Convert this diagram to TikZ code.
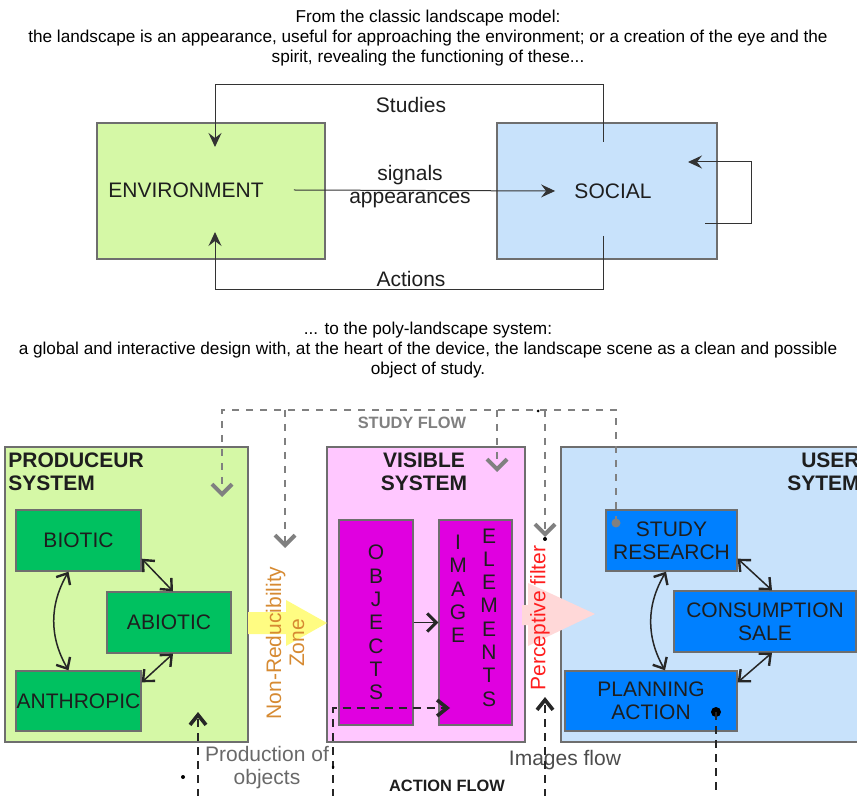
\documentclass[tikz,border=0pt]{standalone}
\usepackage{fontspec}
\setmainfont{Liberation Sans}
\usetikzlibrary{arrows.meta,positioning,calc}

\definecolor{lgreen}{RGB}{213,248,166}
\definecolor{lblue}{RGB}{200,226,251}
\definecolor{lpink}{RGB}{255,199,255}
\definecolor{dgreen}{RGB}{0,193,96}
\definecolor{dblue}{RGB}{0,128,255}
\definecolor{dmagenta}{RGB}{224,0,224}
\definecolor{boxline}{RGB}{110,110,110}
\definecolor{flowgray}{RGB}{128,128,128}
\definecolor{zoneorange}{RGB}{214,138,50}
\definecolor{filterred}{RGB}{255,30,30}
\definecolor{yarrow}{RGB}{255,252,130}
\definecolor{parrow}{RGB}{255,216,216}
\definecolor{txtdark}{RGB}{30,30,30}
\definecolor{txtgray}{RGB}{105,105,105}

\newcommand{\lblfont}{\fontsize{10.5}{11.5}\selectfont}
\newcommand{\capfont}{\fontsize{8.6}{10.2}\selectfont}
\newcommand{\flowfont}{\fontsize{8.2}{9}\selectfont\bfseries}
\newcommand{\letterfont}{\fontsize{10.5}{11.65}\selectfont}

\begin{document}
\begin{tikzpicture}[x=0.5pt, y=-0.5pt,
  capt/.style={font=\capfont, align=center, inner sep=0pt, text=black},
  lbl/.style={font=\lblfont, align=center, inner sep=0pt, text=txtdark},
  box/.style={draw=boxline, line width=0.7pt, inner sep=0pt},
  inbox/.style={box, font=\lblfont, align=center, text=txtdark},
  ttl/.style={font=\lblfont\bfseries, inner sep=0pt, text=txtdark},
  letters/.style={font=\letterfont, align=center, inner sep=0pt, text=txtdark},
  tarr/.style={draw=black!80, line width=0.5pt, -{Stealth[length=7pt,width=6.5pt,inset=2.5pt]}},
  dbl/.style={draw=black!85, line width=0.75pt, {Straight Barb[length=4.5pt,width=8pt,line width=1.2pt]}-{Straight Barb[length=4.5pt,width=8pt,line width=1.2pt]}},
  sflow/.style={draw=flowgray, line width=0.6pt, dash pattern=on 3.5pt off 3.5pt, -{Straight Barb[length=5pt,width=10pt,line width=2pt]}},
  aflow/.style={draw=black!85, line width=0.8pt, dash pattern=on 4pt off 3pt, -{Straight Barb[length=5pt,width=8pt,line width=1.8pt]}},
  dot/.style={circle, inner sep=0pt, minimum size=#1},
]
\useasboundingbox (0,0) rectangle (857,796);

% Captions
\node[capt] (cap1) at (428,38) {From the classic landscape model:\\the landscape is an appearance, useful for approaching the environment; or a creation of the eye and the\\spirit, revealing the functioning of these...};
\node[capt] (cap2) at (428,350) {... to the poly-landscape system:\\a global and interactive design with, at the heart of the device, the landscape scene as a clean and possible\\object of study.};

% Classic model
\node[box, fill=lgreen, minimum width=114pt, minimum height=68pt] (env) at (211,191) {};
\node[lbl] (envtxt) at (186,190) {ENVIRONMENT};
\node[box, fill=lblue, minimum width=110pt, minimum height=68pt] (social) at (607,191) {};
\node[lbl] (soctxt) at (613,191) {SOCIAL};

\coordinate (s1) at (603,142);
\coordinate (e1) at (215,147);
\coordinate (s2) at (603,236);
\coordinate (e2) at (215,232);
\coordinate (l1) at (705,224);
\coordinate (l2) at (688,162);

\draw[tarr] ([xshift=15pt]envtxt.east) -- ([xshift=-9.5pt]soctxt.west);
\node[lbl] (sig) at (410,187) {signals\\appearances};
\draw[tarr] (s1) -- ++(0,-57) -| (e1);
\node[lbl] (studies) at (411,105) {Studies};
\draw[tarr] (s2) -- ++(0,54) -| (e2);
\node[lbl] (actions) at (411,279) {Actions};
\draw[tarr] (l1) -- ++(46,0) |- (l2);

% Poly-landscape system
\node[box, fill=lgreen, minimum width=121.5pt, minimum height=147.5pt] (prod) at (126.5,594.5) {};
\node[box, fill=lpink, minimum width=99pt, minimum height=147.5pt] (vis) at (426,594.5) {};
\node[box, fill=lblue, minimum width=160pt, minimum height=147.5pt] (user) at (721,594.5) {};

\fill[yarrow] (248,612) -- (286,612) -- (286,600) -- (327,623) -- (286,646) -- (286,634) -- (248,634) -- cycle;
\fill[parrow] (522,605) -- (528,605) -- (528,583) -- (595,614) -- (528,646) -- (528,625) -- (522,625) -- cycle;

\node[ttl, anchor=west, align=left] (prodttl) at (8,471.5) {PRODUCEUR\\SYSTEM};
\node[ttl, align=center] (visttl) at (424,471.5) {VISIBLE\\SYSTEM};
\node[ttl, anchor=east, align=right] (userttl) at (860,471.5) {USER\\SYTEM};

\node[inbox, fill=dgreen, minimum width=62.5pt, minimum height=30.5pt] (bio) at (78.5,540.5) {BIOTIC};
\node[inbox, fill=dgreen, minimum width=62pt, minimum height=30.5pt] (abio) at (169,622.5) {ABIOTIC};
\node[inbox, fill=dgreen, minimum width=62.5pt, minimum height=30pt] (anth) at (78.5,701) {ANTHROPIC};

\node[inbox, fill=dmagenta, minimum width=37pt, minimum height=102.5pt, font=\letterfont] (obj) at (376,622.5) {O\\B\\J\\E\\C\\T\\S};
\node[inbox, fill=dmagenta, minimum width=36.5pt, minimum height=102.5pt] (imgel) at (475.5,622.5) {};
\node[letters] (imgtxt) at (458,589) {I\\M\\A\\G\\E};
\node[letters] (eltxt) at (489,617.5) {E\\L\\E\\M\\E\\N\\T\\S};

\node[inbox, fill=dblue, minimum width=65.5pt, minimum height=30.5pt] (study) at (671.5,540.5) {STUDY\\RESEARCH};
\node[inbox, fill=dblue, minimum width=91pt, minimum height=30.5pt] (cons) at (765,621.5) {CONSUMPTION\\SALE};
\node[inbox, fill=dblue, minimum width=86pt, minimum height=30pt] (plan) at (651,701) {PLANNING\\ACTION};

\draw[dbl] ($(bio.south east)+(0,-13)$) -- ([xshift=2pt]abio.north);
\draw[dbl] ([xshift=2pt]abio.south) -- ($(anth.north east)+(0,12)$);
\draw[dbl] ([xshift=-5pt]bio.south) to[bend right=30] ([xshift=-5pt]anth.north);
\draw[dbl] ($(study.south east)+(0,-13)$) -- ([xshift=3.5pt]cons.north);
\draw[dbl] ([xshift=3.5pt]cons.south) -- ($(plan.north east)+(0,12)$);
\draw[dbl] ([xshift=-2.75pt]study.south) to[bend right=30] ([xshift=7pt]plan.north);
\draw[draw=black!85, line width=0.8pt, -{Straight Barb[length=4.5pt,width=9pt,line width=1.5pt]}] (obj) -- (imgel);

\node[lbl, rotate=90, text=zoneorange] (zone) at (285,643) {Non-Reducibility\\Zone};
\node[lbl, rotate=90, text=filterred] (filter) at (540,618) {Perceptive filter};

\node[lbl, text=txtgray] (prodobj) at (267,768) {Production of\\objects};
\node[lbl, text=black!70] (imgflow) at (565,760) {Images flow};
\node[font=\flowfont, text=flowgray, inner sep=0pt] (sflowtxt) at (412,423) {STUDY FLOW};
\node[font=\flowfont, text=txtdark, inner sep=0pt] (aflowtxt) at (447,786) {ACTION FLOW};

% Study flow
\node[dot=4.5pt, fill=flowgray] (sdot) at (616,523) {};
\coordinate (stop) at (616,410);
\coordinate (p1) at (222,497);
\coordinate (p2) at (285,548);
\coordinate (p3) at (497,472);
\coordinate (p4) at (545,537);
\draw[sflow] (sdot.center) -- (stop) -| (p1);
\draw[sflow] (stop -| p2) -- (p2);
\draw[sflow] (stop -| p3) -- (p3);
\draw[sflow] (stop -| p4) -- (p4);

% Action flow
\node[dot=5pt, fill=black] (pdot) at (716,712) {};
\coordinate (abot) at (716,796.5);
\coordinate (a1) at (198,712);
\coordinate (a2) at (333,796.5);
\coordinate (a2tip) at (450,708);
\coordinate (a3) at (545,697);
\draw[aflow] (pdot.center) -- (abot) -| (a1);
\draw[aflow] (a2) |- (a2tip);
\draw[aflow] (abot -| a3) -- (a3);

\fill (538,411) circle (1.5);
\fill (545,539) circle (2);
\fill (183,777) circle (2);
\fill (333,767) circle (1.5);

\end{tikzpicture}
\end{document}
